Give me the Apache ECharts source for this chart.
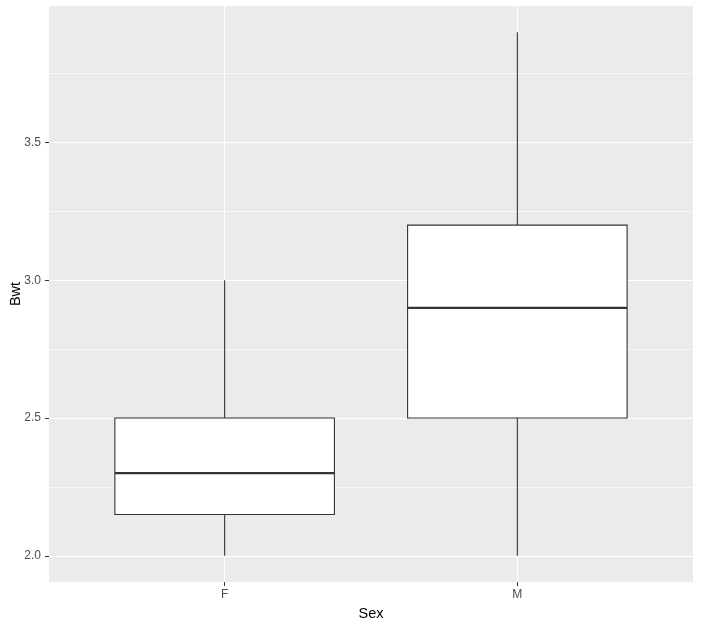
<!DOCTYPE html>
<html><head><meta charset="utf-8">
<script src="https://cdn.jsdelivr.net/npm/echarts@6/dist/echarts.min.js"></script>
<style>html,body{margin:0;padding:0;background:#fff}#c{width:702px;height:628px}</style>
</head><body><div id="c"></div>
<script>
const categories = ['F', 'M'];
const whiskerLow = [2.0, 2.0];
const q1 = [2.15, 2.5];
const medians = [2.3, 2.9];
const q3 = [2.5, 3.2];
const whiskerHigh = [3.0, 3.9];
const yTicks = [2.0, 2.5, 3.0, 3.5];
const yMinorTicks = [2.25, 2.75, 3.25, 3.75];
const xPositions = [1, 2];

const boxData = categories.map((c, i) => [xPositions[i], whiskerLow[i], q1[i], medians[i], q3[i], whiskerHigh[i]]);
const FONT = '"Liberation Sans", Arial, sans-serif';
const chart = echarts.init(document.getElementById('c'));
chart.setOption({
  animation: false,
  grid: { left: 49, right: 9, top: 6, bottom: 46, show: true, backgroundColor: '#EBEBEB', borderWidth: 0,
    containLabel: false, outerBoundsMode: 'none' },
  xAxis: [{
    type: 'value', min: 0.4, max: 2.6,
    name: 'Sex', nameLocation: 'middle', nameGap: 24, nameMoveOverlap: false,
    nameTextStyle: { color: '#000', fontSize: 14.5, fontFamily: FONT },
    axisLine: { show: false },
    axisTick: { show: true, length: 4, customValues: xPositions, lineStyle: { color: '#333333', width: 1 } },
    axisLabel: { customValues: xPositions, margin: 7, color: '#4D4D4D', fontSize: 12, fontFamily: FONT,
      formatter: v => categories[Math.round(v) - 1] },
    splitLine: { show: true, lineStyle: { color: '#FFFFFF', width: 1.1 } }
  }],
  yAxis: [{
    type: 'value', min: 1.905, max: 3.995,
    name: 'Bwt', nameLocation: 'middle', nameGap: 26, nameMoveOverlap: false,
    nameTextStyle: { color: '#000', fontSize: 14.5, fontFamily: FONT },
    axisLine: { show: false },
    axisTick: { show: true, length: 4, customValues: yTicks, lineStyle: { color: '#333333', width: 1 } },
    axisLabel: { customValues: yTicks, margin: 8, color: '#4D4D4D', fontSize: 12, fontFamily: FONT,
      formatter: v => v.toFixed(1) },
    splitLine: { show: true, lineStyle: { color: '#FFFFFF', width: 1.1 } }
  }, {
    type: 'value', min: 1.905, max: 3.995, position: 'left',
    axisLine: { show: false },
    axisTick: { show: false, customValues: yMinorTicks },
    axisLabel: { show: false },
    splitLine: { show: true, lineStyle: { color: '#FFFFFF', width: 0.6 } }
  }],
  series: [{
    type: 'custom',
    xAxisIndex: 0, yAxisIndex: 0,
    data: boxData,
    renderItem: function (params, api) {
      const x = api.value(0);
      const halfW = 0.375;
      const pLowW = api.coord([x, api.value(1)]);
      const pQ1 = api.coord([x, api.value(2)]);
      const pMed = api.coord([x, api.value(3)]);
      const pQ3 = api.coord([x, api.value(4)]);
      const pHighW = api.coord([x, api.value(5)]);
      const left = api.coord([x - halfW, api.value(2)])[0];
      const right = api.coord([x + halfW, api.value(2)])[0];
      const stroke = { stroke: '#333333', lineWidth: 1.1 };
      return {
        type: 'group',
        children: [
          { type: 'line', shape: { x1: pQ1[0], y1: pQ1[1], x2: pLowW[0], y2: pLowW[1] }, style: stroke },
          { type: 'line', shape: { x1: pQ3[0], y1: pQ3[1], x2: pHighW[0], y2: pHighW[1] }, style: stroke },
          { type: 'rect', shape: { x: left, y: pQ3[1], width: right - left, height: pQ1[1] - pQ3[1] },
            style: { fill: '#FFFFFF', stroke: '#333333', lineWidth: 1.1 } },
          { type: 'line', shape: { x1: left, y1: pMed[1], x2: right, y2: pMed[1] },
            style: { stroke: '#333333', lineWidth: 2.2 } }
        ]
      };
    }
  }]
});
</script>
</body></html>
